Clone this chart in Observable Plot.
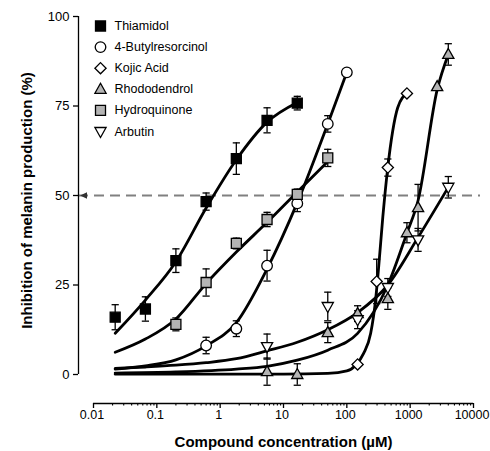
<!DOCTYPE html>
<html><head><meta charset="utf-8">
<script src="https://cdn.jsdelivr.net/npm/d3@7"></script>
<script src="https://cdn.jsdelivr.net/npm/@observablehq/plot@0.6"></script>
<style>body{margin:0;background:#fff;} #chart{width:490px;height:451px;}</style>
</head><body><div id="chart"></div>
<script>
// ---------- data ----------
const seriesNames = ["Thiamidol", "4-Butylresorcinol", "Kojic Acid", "Rhododendrol", "Hydroquinone", "Arbutin"];

const thiamidolConc = [0.022, 0.066, 0.2, 0.6, 1.8, 5.5, 16.5];
const thiamidolMean = [16, 18.3, 31.8, 48.3, 60.3, 71, 75.8];
const thiamidolErr  = [3.5, 3.4, 3.3, 2.4, 4.4, 3.5, 1.9];
const thiamidolFitConc = [0.022, 0.066, 0.2, 0.6, 1.8, 5.5, 16.5];
const thiamidolFit     = [11.5, 20.8, 31.5, 46.5, 60, 70.5, 76];

const butylConc = [0.6, 1.8, 5.5, 16.5, 50, 100];
const butylMean = [8.1, 12.8, 30.4, 47.8, 70, 84.4];
const butylErr  = [2.3, 2.2, 4.3, 2.3, 2.3, 0];
const butylFitConc = [0.022, 0.066, 0.2, 0.6, 1.8, 5.5, 16.5, 50, 100];
const butylFit     = [1.5, 2.4, 4.1, 8, 14.5, 29.5, 48, 70, 84.4];

const kojicConc = [148, 296, 444, 889];
const kojicMean = [2.8, 26, 57.8, 78.5];
const kojicErr  = [0, 6.2, 2.4, 0];
const kojicFitConc = [0.022, 10, 50, 100, 138, 184, 238, 285, 318, 370, 441, 530, 635, 889];
const kojicFit     = [0.1, 0.1, 0.3, 1, 2.6, 5.9, 11.5, 21, 30, 44, 57.5, 68, 74.5, 78.5];

const rhodoConc = [5.5, 16.5, 50, 148, 444, 889, 1333, 2667, 4000];
const rhodoMean = [0.8, 0, 11.7, 17, 21.2, 39.6, 46.6, 80.4, 89.4];
const rhodoErr  = [3.8, 3, 2.8, 2.2, 3, 2.8, 6.5, 0, 3];
const rhodoFitConc = [0.022, 0.2, 1.8, 5.5, 16.5, 50, 148, 444, 889, 1333, 2667, 4000];
const rhodoFit     = [0.4, 0.7, 1.5, 2.3, 4, 6.8, 11.5, 25, 39.5, 48.6, 79.5, 89.4];

const hydroConc = [0.2, 0.6, 1.8, 5.5, 16.5, 50];
const hydroMean = [14, 25.7, 36.6, 43.3, 50.3, 60.5];
const hydroErr  = [1.8, 3.8, 1.5, 2, 1.5, 2.4];
const hydroFitConc = [0.022, 0.066, 0.2, 0.6, 1.8, 5.5, 16.5, 50];
const hydroFit     = [6.2, 9.9, 15.5, 25.4, 34.2, 42.5, 51, 59.5];

const arbutinConc = [5.5, 50, 148, 444, 1333, 4000];
const arbutinMean = [7.8, 19, 15.3, 24.3, 37.6, 52.3];
const arbutinErr  = [3.5, 4, 2.5, 2.5, 3.2, 3];
const arbutinFitConc = [0.022, 0.066, 0.2, 0.6, 1.8, 5.5, 16.5, 50, 148, 444, 1333, 4000];
const arbutinFit     = [1.7, 2.1, 2.6, 3.3, 4.4, 6.6, 9, 12.5, 17.3, 25, 38.3, 52.3];

const xTicks = [0.01, 0.1, 1, 10, 100, 1000, 10000];
const xTickLabels = ["0.01", "0.1", "1", "10", "100", "1000", "10000"];
const yTicks = [0, 25, 50, 75, 100];
const yTickLabels = ["0", "25", "50", "75", "100"];
const halfLine = 50;
const xLabel = "Compound concentration (\u00b5M)";
const yLabel = "Inhibition of melanin production (%)";

// ---------- build tables ----------
const raw = [
  [thiamidolConc, thiamidolMean, thiamidolErr, thiamidolFitConc, thiamidolFit],
  [butylConc, butylMean, butylErr, butylFitConc, butylFit],
  [kojicConc, kojicMean, kojicErr, kojicFitConc, kojicFit],
  [rhodoConc, rhodoMean, rhodoErr, rhodoFitConc, rhodoFit],
  [hydroConc, hydroMean, hydroErr, hydroFitConc, hydroFit],
  [arbutinConc, arbutinMean, arbutinErr, arbutinFitConc, arbutinFit]
];
const points = [], fits = [];
raw.forEach(([c, m, e, fc, fv], i) => {
  c.forEach((x, j) => points.push({series: seriesNames[i], conc: x, value: m[j], lo: m[j] - e[j], hi: m[j] + e[j], err: e[j]}));
  fc.forEach((x, j) => fits.push({series: seriesNames[i], conc: x, value: fv[j]}));
});
const bars = points.filter(d => d.err > 0);

const xMinor = [];
for (let e = -2; e < 4; e++) for (let k = 2; k <= 9; k++) xMinor.push(k * Math.pow(10, e));

// ---------- symbols ----------
const sq = {draw(c) { const h = 5; c.moveTo(-h, -h); c.lineTo(h, -h); c.lineTo(h, h); c.lineTo(-h, h); c.closePath(); }};
const circ = {draw(c) { const r = 5.3; c.moveTo(r, 0); c.arc(0, 0, r, 0, 2 * Math.PI); c.closePath(); }};
const diam = {draw(c) { const h = 5.6; c.moveTo(0, -h); c.lineTo(h, 0); c.lineTo(0, h); c.lineTo(-h, 0); c.closePath(); }};
const triUp = {draw(c) { c.moveTo(0, -6); c.lineTo(5.6, 4); c.lineTo(-5.6, 4); c.closePath(); }};
const triDown = {draw(c) { c.moveTo(0, 6); c.lineTo(5.6, -4); c.lineTo(-5.6, -4); c.closePath(); }};
const cap = {draw(c) { c.moveTo(-3.6, 0); c.lineTo(3.6, 0); }};
const arrowLeft = {draw(c) { c.moveTo(1.5, 0); c.lineTo(8.5, -3.3); c.lineTo(8.5, 3.3); c.closePath(); }};

const gray = "#b4b4b4";
const styleOf = {
  "Thiamidol": {symbol: sq, fill: "black"},
  "4-Butylresorcinol": {symbol: circ, fill: "white"},
  "Kojic Acid": {symbol: diam, fill: "white"},
  "Rhododendrol": {symbol: triUp, fill: gray},
  "Hydroquinone": {symbol: sq, fill: gray},
  "Arbutin": {symbol: triDown, fill: "white"}
};

// ---------- scales ----------
const pxPerDecade = 380 / 6;
const xDomain = [xTicks[0] / Math.pow(10, 15 / pxPerDecade), xTicks[xTicks.length - 1] * Math.pow(10, 7 / pxPerDecade)];

const marks = [
  Plot.ruleY([halfLine], {stroke: "#808080", strokeWidth: 2, strokeDasharray: "10,6"}),
  Plot.dot([halfLine], {y: d => d, frameAnchor: "left", symbol: arrowLeft, fill: "#333", stroke: "none"}),
  Plot.ruleX([xDomain[0]], {y1: yTicks[0], y2: yTicks[yTicks.length - 1], strokeWidth: 1.3}),
  Plot.axisY({ticks: yTicks, tickFormat: d => yTickLabels[yTicks.indexOf(d)], tickSize: 5, tickPadding: 4, fontSize: 13, label: null, strokeWidth: 1.3}),
  Plot.ruleY([0], {x1: xTicks[0], x2: xTicks[xTicks.length - 1], dy: 29, strokeWidth: 1.3}),
  Plot.axisX({ticks: xTicks, tickFormat: () => "", tickSize: 5, dy: 29, label: null, strokeWidth: 1.3}),
  Plot.axisX({ticks: xTicks, tickFormat: d => xTickLabels[xTicks.indexOf(d)], tickSize: 0, tickPadding: 6.5, dy: 29, dx: -1.5, fontSize: 12.5, label: null}),
  Plot.axisX({ticks: xMinor, tickFormat: () => "", tickSize: 2.5, dy: 29, label: null, strokeWidth: 1.1}),
  Plot.line(fits, {x: "conc", y: "value", z: "series", curve: "monotone-x", stroke: "black", strokeWidth: 2.8}),
  Plot.ruleX(bars, {x: "conc", y1: "lo", y2: "hi", stroke: "black", strokeWidth: 1.3}),
  Plot.dot(bars, {x: "conc", y: "lo", symbol: cap, stroke: "black", fill: "none", strokeWidth: 1.3}),
  Plot.dot(bars, {x: "conc", y: "hi", symbol: cap, stroke: "black", fill: "none", strokeWidth: 1.3})
];
seriesNames.forEach((name, i) => {
  const s = styleOf[name];
  marks.push(Plot.dot(points.filter(d => d.series === name), {x: "conc", y: "value", symbol: s.symbol, fill: s.fill, stroke: "black", strokeWidth: 1.3}));
  marks.push(Plot.dot([name], {frameAnchor: "top-left", dx: 22, dy: 9.5 + i * 21.1, symbol: s.symbol, fill: s.fill, stroke: "black", strokeWidth: 1.3}));
  marks.push(Plot.text([name], {frameAnchor: "top-left", dx: 36, dy: 9.5 + i * 21.1, text: d => d, textAnchor: "start", lineAnchor: "middle", fontSize: 12.5}));
});
marks.push(Plot.text([yLabel], {frameAnchor: "left", dx: -51, dy: 5, rotate: -90, text: d => d, textAnchor: "middle", lineAnchor: "middle", fontSize: 15, fontWeight: "bold"}));
marks.push(Plot.text([xLabel], {frameAnchor: "bottom", dx: 4, dy: 68, text: d => d, textAnchor: "middle", lineAnchor: "middle", fontSize: 15, fontWeight: "bold"}));

const chart = Plot.plot({
  width: 490, height: 451,
  marginLeft: 78, marginRight: 10, marginTop: 16, marginBottom: 77,
  style: {fontFamily: "'Liberation Sans', Arial, sans-serif", fontSize: "13px", background: "white", color: "black"},
  x: {type: "log", domain: xDomain},
  y: {domain: [0, 100]},
  marks
});
document.getElementById("chart").appendChild(chart);
</script>
</body></html>
